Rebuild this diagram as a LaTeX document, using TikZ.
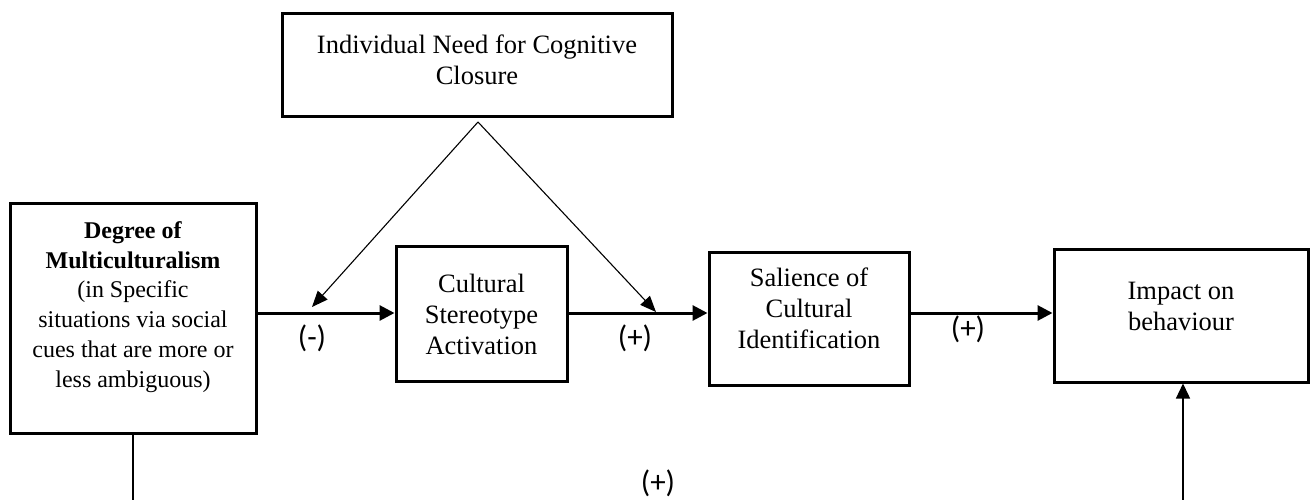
\documentclass[tikz,border=0pt]{standalone}
\usepackage{fontspec}
\setmainfont{Liberation Serif}
\newfontfamily\labfont{Carlito}
\usetikzlibrary{arrows.meta}
\tikzset{
  boxnode/.style={draw, line width=3pt, minimum width=#1, inner sep=0pt},
  txt/.style={align=center, font=\fontsize{26.5}{31}\selectfont, inner sep=0pt},
  smalltxt/.style={align=center, font=\fontsize{24}{29.8}\selectfont, inner sep=0pt},
  sign/.style={font=\labfont\fontsize{31}{34}\selectfont, inner sep=0pt},
  mainarrow/.style={line width=3pt, -{Triangle[length=15pt,width=15pt]}},
  thinarrow/.style={line width=1.1pt, -{Triangle[length=16pt,width=13pt]}},
  plainline/.style={line width=1.4pt}
}
\begin{document}
\begin{tikzpicture}[x=1pt,y=-1pt]
\useasboundingbox (0,0) rectangle (1316,500);
% boxes
\node[boxnode=390pt, minimum height=103pt] (need) at (477,65.5) {};
\node[boxnode=246pt, minimum height=230pt] (deg) at (133,318) {};
\node[boxnode=171pt, minimum height=135pt] (cult) at (481.5,313.5) {};
\node[boxnode=200pt, minimum height=133pt] (sal) at (809,318.5) {};
\node[boxnode=254pt, minimum height=133pt] (imp) at (1181,315.5) {};
% texts
\node[txt] (needtxt) at (477,60) {Individual Need for Cognitive\\Closure};
\node[smalltxt] (degtxt) at (133,307) {\textbf{Degree of}\\\textbf{Multiculturalism}\\(in Specific\\situations via social\\cues that are more or\\less ambiguous)};
\node[txt] (culttxt) at (481.5,314) {Cultural\\Stereotype\\Activation};
\node[txt] (saltxt) at (809,308) {Salience of\\Cultural\\Identification};
\node[txt] (imptxt) at (1181,306) {Impact on\\behaviour};
% main arrows
\draw[mainarrow] (deg.east |- 0,313) -- (cult.west |- 0,313);
\draw[mainarrow] (cult.east |- 0,313) -- (sal.west |- 0,313);
\draw[mainarrow] (sal.east |- 0,313) -- (imp.west |- 0,313);
% moderator arrows
\coordinate (apex) at (478,122);
\coordinate (ltip) at (312,307);
\coordinate (rtip) at (656,312);
\draw[thinarrow] (apex) -- (ltip);
\draw[thinarrow] (apex) -- (rtip);
% bottom path (cut off at the page edge)
\coordinate (bl) at (133,500);
\coordinate (br) at (1183,500);
\draw[plainline] (deg.south) -- (bl);
\draw[plainline, -{Triangle[length=15pt,width=14pt]}] (br) -- (imp.south -| br);
% signs
\node[sign] (s1) at (312,338) {(-)};
\node[sign] (s2) at (635,338) {(+)};
\node[sign] (s3) at (968,329) {(+)};
\node[sign] (s4) at (658,483) {(+)};
\end{tikzpicture}
\end{document}
